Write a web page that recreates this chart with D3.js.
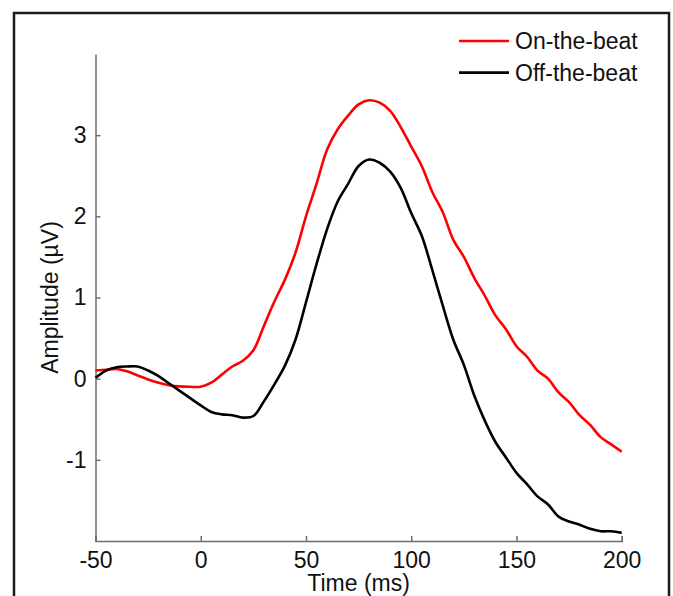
<!DOCTYPE html>
<html>
<head>
<meta charset="utf-8">
<script src="https://cdn.jsdelivr.net/npm/d3@7"></script>
<style>
  body { margin: 0; background: #fff; }
  svg { display: block; font-family: "Liberation Sans", Arial, sans-serif; }
</style>
</head>
<body>
<div id="erp-chart"></div>
<script>
// time points (ms), every 5 ms
const times = d3.range(-50, 201, 5);

// amplitude (uV)
const onBeat = [
  0.10, 0.11, 0.12, 0.09, 0.04, -0.01, -0.05, -0.08, -0.095, -0.10,
  -0.10, -0.05, 0.05, 0.15, 0.22, 0.35, 0.65, 0.95, 1.22, 1.55,
  2.00, 2.40, 2.82, 3.07, 3.24, 3.38, 3.43, 3.40, 3.30, 3.10,
  2.86, 2.62, 2.30, 2.05, 1.71, 1.50, 1.24, 1.02, 0.78, 0.61,
  0.40, 0.27, 0.10, 0.00, -0.17, -0.29, -0.45, -0.57, -0.72, -0.81,
  -0.90
];
const offBeat = [
  0.01, 0.10, 0.14, 0.15, 0.15, 0.10, 0.03, -0.06, -0.15, -0.24,
  -0.33, -0.41, -0.44, -0.45, -0.48, -0.46, -0.28, -0.07, 0.16, 0.48,
  0.94, 1.41, 1.84, 2.18, 2.40, 2.62, 2.70, 2.66, 2.55, 2.35,
  2.04, 1.76, 1.34, 0.90, 0.48, 0.17, -0.21, -0.52, -0.78, -0.97,
  -1.16, -1.30, -1.45, -1.55, -1.70, -1.76, -1.80, -1.85, -1.88, -1.88,
  -1.90
];

const seriesNames = ["On-the-beat", "Off-the-beat"];
const seriesColors = ["#ff0000", "#000000"];
const xTicks = [-50, 0, 50, 100, 150, 200];
const yTicks = [-1, 0, 1, 2, 3];

const w = 673, h = 596;
const plotLeft = 95.5, plotRight = 621.7, plotTop = 54, plotBottom = 541;
const fontSize = "23px";

const svg = d3.select("#erp-chart")
              .append("svg")
              .attr("width", w)
              .attr("height", h);

// outer frame
svg.append("rect")
   .attr("x", 14).attr("y", 13)
   .attr("width", 655).attr("height", 600)
   .attr("fill", "none")
   .attr("stroke", "#1a1a1a")
   .attr("stroke-width", 2.5);

const x = d3.scaleLinear().domain([-50, 200]).range([plotLeft, plotRight]);
const y = d3.scaleLinear().domain([-2, 4]).range([plotBottom, plotTop]);

// axes, MATLAB style: ticks pointing inward, plain hyphen minus
const plain = function(d) { return String(d); };
const xAxis = d3.axisBottom(x).tickValues(xTicks).tickFormat(plain)
                .tickSizeInner(-5).tickSizeOuter(-5).tickPadding(11);
const yAxis = d3.axisLeft(y).tickValues(yTicks).tickFormat(plain)
                .tickSizeInner(-5).tickSizeOuter(0).tickPadding(9);

const gx = svg.append("g")
   .attr("transform", "translate(0," + plotBottom + ")")
   .call(xAxis);
const gy = svg.append("g")
   .attr("transform", "translate(" + plotLeft + ",0)")
   .call(yAxis);

[gx, gy].forEach(function(g) {
  g.select(".domain").attr("stroke", "#6e6e6e").attr("stroke-width", 1.5);
  g.selectAll(".tick line").attr("stroke", "#6e6e6e").attr("stroke-width", 1.5);
  g.selectAll(".tick text")
   .attr("fill", "#111")
   .style("font-size", fontSize)
   .style("font-family", "'Liberation Sans', Arial, sans-serif");
});
gx.selectAll(".tick text").attr("dy", "0.71em");

// curves
const line = d3.line()
               .x(function(d) { return x(d[0]); })
               .y(function(d) { return y(d[1]); })
               .curve(d3.curveCatmullRom);

[onBeat, offBeat].forEach(function(vals, i) {
  svg.append("path")
     .datum(times.map(function(t, j) { return [t, vals[j]]; }))
     .attr("fill", "none")
     .attr("stroke", seriesColors[i])
     .attr("stroke-width", 2.6)
     .attr("stroke-linejoin", "round")
     .attr("d", line);
});

// axis labels
svg.append("text")
   .attr("x", (plotLeft + plotRight) / 2)
   .attr("y", 591)
   .attr("text-anchor", "middle")
   .attr("fill", "#111")
   .style("font-size", fontSize)
   .text("Time (ms)");

svg.append("text")
   .attr("transform", "translate(58," + (plotTop + plotBottom) / 2 + ") rotate(-90)")
   .attr("text-anchor", "middle")
   .attr("fill", "#111")
   .style("font-size", fontSize)
   .text("Amplitude (µV)");

// legend
const legend = svg.append("g").attr("transform", "translate(459,41)");
seriesNames.forEach(function(name, i) {
  const row = legend.append("g").attr("transform", "translate(0," + i * 31.6 + ")");
  row.append("line")
     .attr("x1", 0).attr("x2", 50)
     .attr("stroke", seriesColors[i])
     .attr("stroke-width", 2.6);
  row.append("text")
     .attr("x", 56)
     .attr("y", 8.3)
     .attr("fill", "#111")
     .style("font-size", fontSize)
     .text(name);
});
</script>
</body>
</html>
